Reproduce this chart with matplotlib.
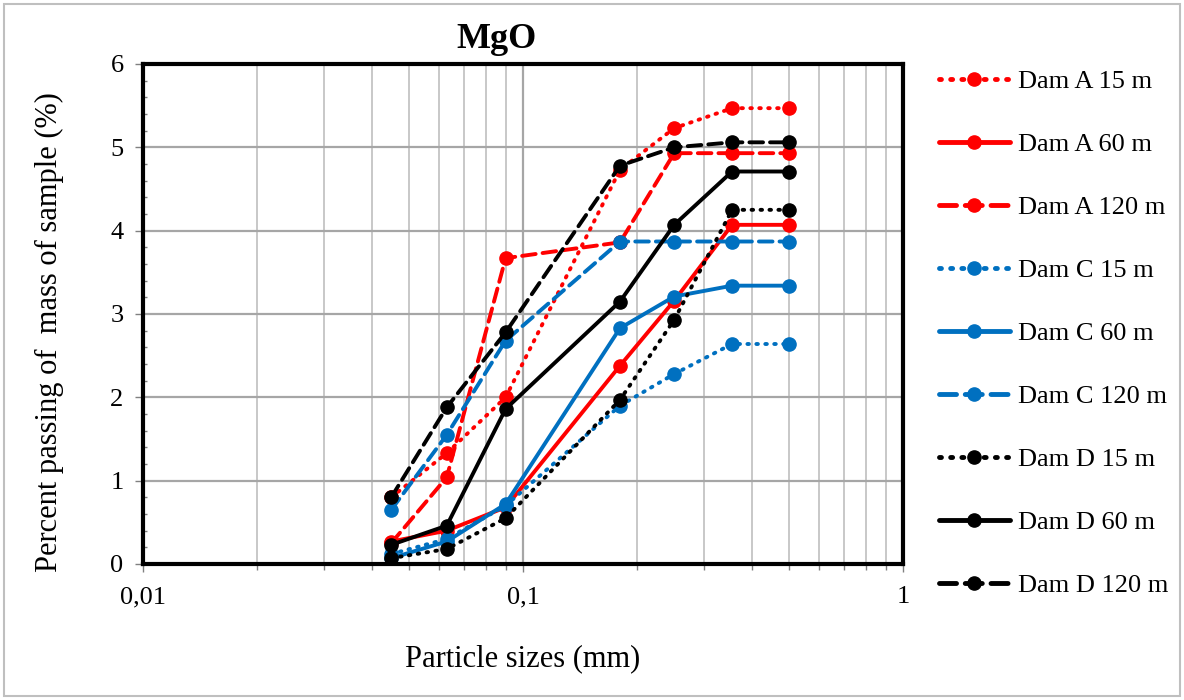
import matplotlib
matplotlib.use("Agg")
import matplotlib.pyplot as plt
from matplotlib.ticker import FixedLocator, NullFormatter, LogLocator
from matplotlib.patches import Rectangle

plt.rcParams['font.family'] = ['Liberation Serif', 'DejaVu Serif']

sizes = [0.045, 0.063, 0.09, 0.18, 0.25, 0.355, 0.5]

dam_a_15 = [0.80, 1.33, 2.00, 4.73, 5.23, 5.47, 5.47]
dam_a_60 = [0.27, 0.40, 0.68, 2.38, 3.16, 4.07, 4.07]
dam_a_120 = [0.25, 1.04, 3.67, 3.86, 4.93, 4.93, 4.93]
dam_c_15 = [0.12, 0.30, 0.70, 1.90, 2.28, 2.64, 2.64]
dam_c_60 = [0.07, 0.27, 0.72, 2.83, 3.21, 3.34, 3.34]
dam_c_120 = [0.65, 1.55, 2.68, 3.87, 3.87, 3.87, 3.87]
dam_d_15 = [0.07, 0.18, 0.55, 1.97, 2.93, 4.25, 4.25]
dam_d_60 = [0.23, 0.46, 1.86, 3.15, 4.07, 4.71, 4.71]
dam_d_120 = [0.80, 1.88, 2.78, 4.78, 5.00, 5.06, 5.06]

labels = ["Dam A 15 m", "Dam A 60 m", "Dam A 120 m",
          "Dam C 15 m", "Dam C 60 m", "Dam C 120 m",
          "Dam D 15 m", "Dam D 60 m", "Dam D 120 m"]
series = [dam_a_15, dam_a_60, dam_a_120, dam_c_15, dam_c_60, dam_c_120,
          dam_d_15, dam_d_60, dam_d_120]

RED = "#FF0000"
BLUE = "#0070C0"
BLACK = "#000000"
colors = [RED, RED, RED, BLUE, BLUE, BLUE, BLACK, BLACK, BLACK]
styles = [(0, (0.4, 1.9)), '-', (0, (3.5, 1.8))] * 3

fig = plt.figure(figsize=(11.84, 7.0), dpi=100)
ax = fig.add_axes([143/1184, 1-564/700, (903-143)/1184, (564-64)/700])

for vals, lab, c, ls in zip(series, labels, colors, styles):
    ax.plot(sizes, vals, color=c, linestyle=ls, linewidth=2.8,
            marker='o', markersize=9.5, dash_capstyle='round',
            solid_capstyle='round', label=lab)

ax.set_xscale('log')
ax.set_xlim(0.01, 1)
ax.set_ylim(0, 6)
ax.set_yticks([0, 1, 2, 3, 4, 5, 6])
ax.set_xticks([0.01, 0.1, 1])
ax.set_xticklabels(["0,01", "0,1", "1"])
ax.xaxis.set_minor_locator(LogLocator(base=10, subs=range(2, 10)))
ax.xaxis.set_minor_formatter(NullFormatter())
ax.yaxis.set_minor_locator(FixedLocator([i * 0.2 for i in range(31)]))

ax.grid(True, which='major', axis='both', color='#A6A6A6', linewidth=1.6)
ax.grid(True, which='minor', axis='x', color='#BFBFBF', linewidth=1.2)
ax.set_axisbelow(True)
for sp in ax.spines.values():
    sp.set_linewidth(3)
    sp.set_color('black')

ax.tick_params(axis='both', which='major', labelsize=19, length=6, width=1,
               color='#808080', direction='out')
ax.tick_params(axis='x', which='major', pad=10)
ax.tick_params(axis='y', which='major', pad=8)
ax.tick_params(axis='both', which='minor', length=4, width=1,
               color='#808080', direction='out')
ax.tick_params(axis='y', which='minor', direction='in', length=3)

ax.set_xlabel("Particle sizes (mm)", fontsize=22, labelpad=26)
ax.set_ylabel("Percent passing of  mass of sample (%)", fontsize=22)
ax.yaxis.set_label_coords((64 - 143) / 760, (564 - 332) / 500)
fig.text(497/1184, 1-40/700, "MgO", fontsize=26, fontweight='bold',
         ha='center', va='center')

leg = fig.legend(loc='upper left', bbox_to_anchor=(928/1184, 1-59/700),
                 frameon=False, fontsize=19, handlelength=2.7,
                 labelspacing=1.5, handletextpad=0.3, borderaxespad=0)
for h in leg.get_lines():
    h.set_linewidth(3.5)

fig.add_artist(Rectangle((4/1184, 4/700), 1-8/1184, 1-8/700,
                         transform=fig.transFigure, fill=False,
                         edgecolor='#BFBFBF', linewidth=1.5))

fig.savefig("out.png", dpi=100)
